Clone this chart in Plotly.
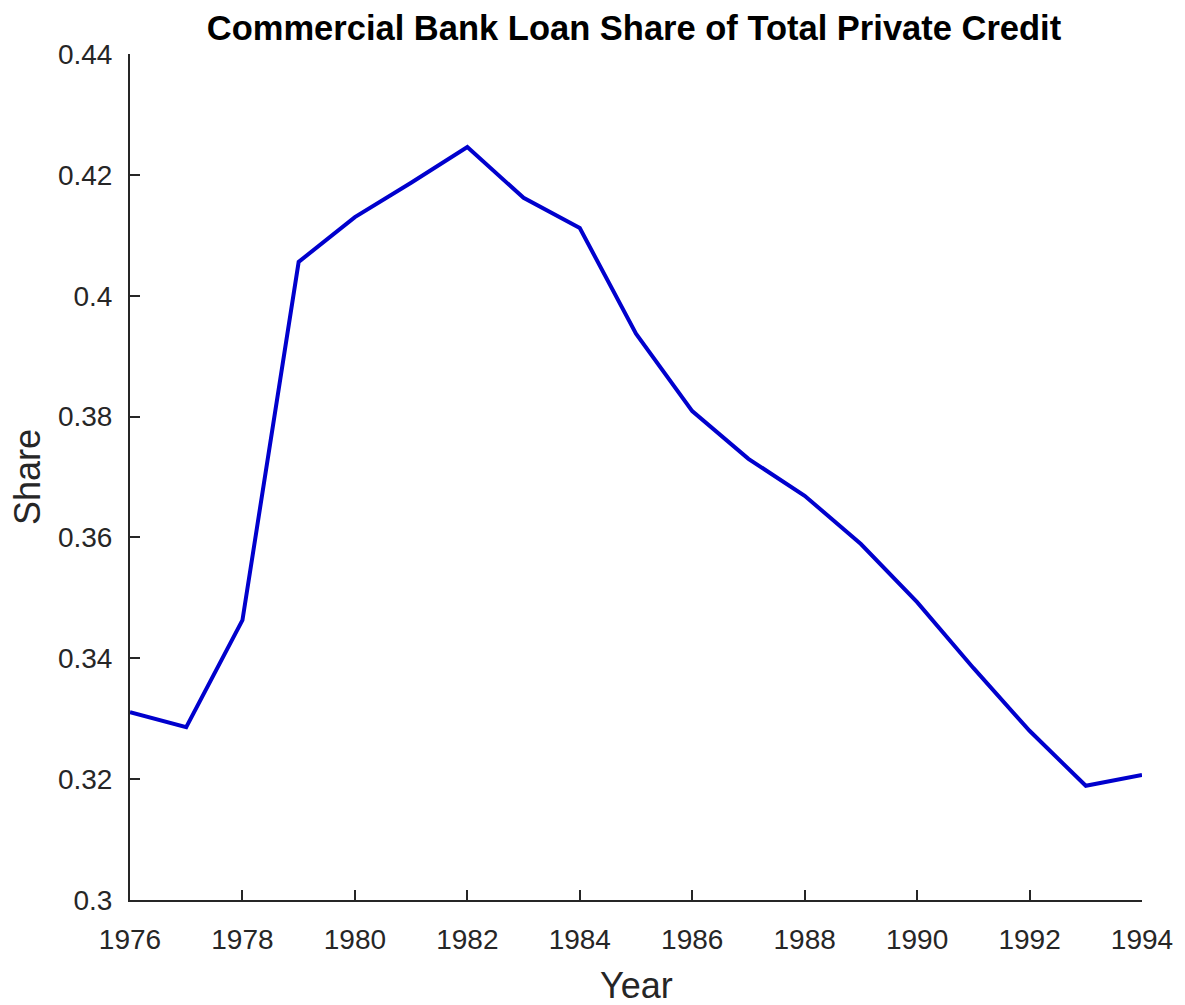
import plotly.graph_objects as go

years = list(range(1976, 1995))
share = [0.3311, 0.3286, 0.3463, 0.4056, 0.4130, 0.4187, 0.4246, 0.4162, 0.4112,
         0.3937, 0.3809, 0.3730, 0.3669, 0.3589, 0.3493, 0.3384, 0.3280, 0.3189, 0.3207]

x_ticks = list(range(1976, 1995, 2))
y_ticks = [0.30, 0.32, 0.34, 0.36, 0.38, 0.40, 0.42, 0.44]
y_ticktext = ["0.3", "0.32", "0.34", "0.36", "0.38", "0.4", "0.42", "0.44"]

axis_color = "#262626"
font_family = "Liberation Sans, Arial, sans-serif"

# page has an 8px body margin; compensate so the plot area lands at 130..1142 x 54..900
L, T = 122, 46
PW, PH = 1012, 846
W, H = 1185, 1005

fig = go.Figure()
fig.add_trace(go.Scatter(x=years, y=share, mode="lines",
                         line=dict(color="#0000CD", width=4), showlegend=False))

fig.update_layout(
    width=W, height=H,
    margin=dict(l=L, r=W - L - PW, t=T, b=H - T - PH, autoexpand=False),
    paper_bgcolor="white", plot_bgcolor="white",
    font=dict(family=font_family, color=axis_color, size=28),
    title=dict(text="<b>Commercial Bank Loan Share of Total Private Credit</b>",
               x=626 / W, xanchor="center", y=1 - 20 / H, yanchor="middle",
               font=dict(size=34.5, color="black", family=font_family)),
    xaxis=dict(range=[1976, 1994], tickvals=x_ticks, ticktext=[str(t) for t in x_ticks],
               showgrid=False, zeroline=False, showline=True, linecolor=axis_color, linewidth=2,
               ticks="inside", ticklen=10, tickwidth=2, tickcolor=axis_color,
               tickfont=dict(size=28, color=axis_color), ticklabelstandoff=13),
    yaxis=dict(range=[0.30, 0.44], tickvals=y_ticks, ticktext=y_ticktext,
               showgrid=False, zeroline=False, showline=True, linecolor=axis_color, linewidth=2,
               ticks="inside", ticklen=10, tickwidth=2, tickcolor=axis_color,
               tickfont=dict(size=28, color=axis_color), ticklabelstandoff=10),
    annotations=[
        dict(text="Year", xref="paper", yref="paper", x=0.5, y=0, yshift=-85,
             xanchor="center", yanchor="middle", showarrow=False,
             font=dict(size=36, color=axis_color)),
        dict(text="Share", xref="paper", yref="paper", x=0, y=0.5, xshift=-103,
             xanchor="center", yanchor="middle", textangle=-90, showarrow=False,
             font=dict(size=36, color=axis_color)),
    ],
)

fig.write_html("out.html")
